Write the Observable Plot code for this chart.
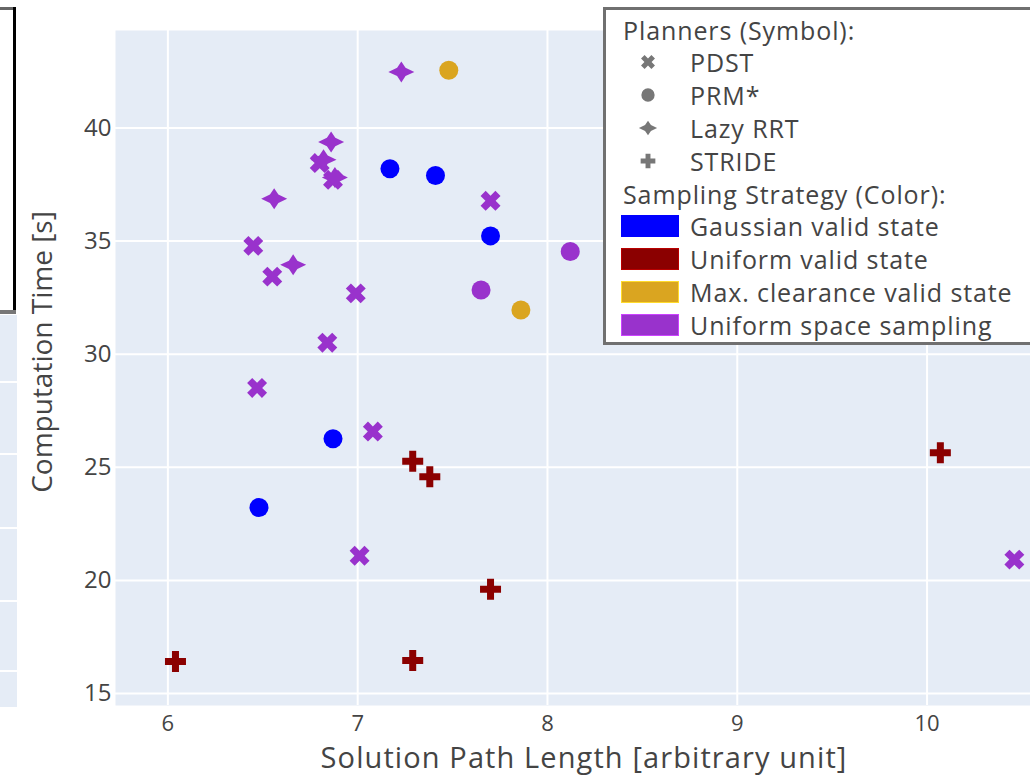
<!DOCTYPE html>
<html>
<head>
<meta charset="utf-8">
<script src="https://cdn.jsdelivr.net/npm/d3@7"></script>
<script src="https://cdn.jsdelivr.net/npm/@observablehq/plot@0.6"></script>
<style>
  body { margin: 0; background: #fff; }
  #wrap { position: relative; width: 1030px; height: 781px; overflow: hidden; font-family: "Open Sans", sans-serif; color: #444; }
  #chart { position: absolute; left: 0; top: 0; }
  .deco { position: absolute; }
  #legend { position: absolute; left: 603px; top: 7px; width: 440px; height: 332px; background: #fff; border: 3px solid #707070; }
  #legend .row { position: absolute; left: 0; height: 32px; line-height: 32px; font-size: 25px; letter-spacing: 0.9px; white-space: nowrap; color: #444; }
  #legend .head { left: 17px; }
  #legend .label { left: 84px; }
  #legend .swatch { position: absolute; left: 15px; width: 58px; height: 22px; box-sizing: border-box; }
  #legend svg { position: absolute; left: 30px; }
  .x-title text { letter-spacing: 1.1px; }
</style>
</head>
<body>
<div id="wrap"><div id="chart"></div></div>
<script>
// Planners are encoded by symbol, sampling strategies by colour
const planners = ["PDST", "PRM*", "Lazy RRT", "STRIDE"];
const strategies = ["Gaussian valid state", "Uniform valid state", "Max. clearance valid state", "Uniform space sampling"];
const strategyColors = ["#0000ff", "#8b0000", "#daa520", "#9932cc"];
const xTicks = [6, 7, 8, 9, 10];
const yTicks = [15, 20, 25, 30, 35, 40];

// One entry per run: planner, sampling strategy, path length, computation time
const runPlanner = [
  "Lazy RRT", "PRM*", "Lazy RRT", "PDST", "Lazy RRT", "PDST", "Lazy RRT", "PRM*",
  "PRM*", "Lazy RRT", "PDST", "PRM*", "PRM*", "PDST", "Lazy RRT", "PDST",
  "PDST", "PRM*", "PRM*", "PDST", "PDST", "PRM*", "PDST", "STRIDE",
  "STRIDE", "PRM*", "PDST", "STRIDE", "STRIDE", "STRIDE", "STRIDE", "PDST"
];
const runStrategy = [
  "Uniform space sampling", "Max. clearance valid state", "Uniform space sampling", "Uniform space sampling",
  "Uniform space sampling", "Uniform space sampling", "Uniform space sampling", "Gaussian valid state",
  "Gaussian valid state", "Uniform space sampling", "Uniform space sampling", "Gaussian valid state",
  "Uniform space sampling", "Uniform space sampling", "Uniform space sampling", "Uniform space sampling",
  "Uniform space sampling", "Uniform space sampling", "Max. clearance valid state", "Uniform space sampling",
  "Uniform space sampling", "Gaussian valid state", "Uniform space sampling", "Uniform valid state",
  "Uniform valid state", "Gaussian valid state", "Uniform space sampling", "Uniform valid state",
  "Uniform valid state", "Uniform valid state", "Uniform valid state", "Uniform space sampling"
];
const pathLength = [
  7.23, 7.48, 6.86, 6.80, 6.82, 6.87, 6.88, 7.17,
  7.41, 6.56, 7.70, 7.70, 8.12, 6.45, 6.66, 6.55,
  6.99, 7.65, 7.86, 6.84, 6.47, 6.87, 7.08, 7.29,
  7.38, 6.48, 7.01, 7.70, 6.04, 7.29, 10.07, 10.46
];
const compTime = [
  42.48, 42.55, 39.38, 38.45, 38.60, 37.71, 37.81, 38.20,
  37.90, 36.87, 36.78, 35.23, 34.54, 34.79, 33.95, 33.43,
  32.69, 32.84, 31.95, 30.51, 28.51, 26.26, 26.58, 25.27,
  24.58, 23.22, 21.09, 19.61, 16.41, 16.46, 25.64, 20.92
];

const runs = runPlanner.map((p, i) => ({planner: p, strategy: runStrategy[i], length: pathLength[i], time: compTime[i]}));

// Marker shapes, drawn relative to the radius Plot hands over
function polygon(ctx, pts) {
  ctx.moveTo(pts[0][0], pts[0][1]);
  for (let i = 1; i < pts.length; i++) ctx.lineTo(pts[i][0], pts[i][1]);
  ctx.closePath();
}
const plusPts = (R, T) => [[-T,-R],[T,-R],[T,-T],[R,-T],[R,T],[T,T],[T,R],[-T,R],[-T,T],[-R,T],[-R,-T],[-T,-T]];
const radius = size => Math.sqrt(size / Math.PI);
const symX = {draw(ctx, size) {
  const r = radius(size);
  polygon(ctx, plusPts(1.05 * r, 0.36 * r).map(([x, y]) => [(x - y) * Math.SQRT1_2, (x + y) * Math.SQRT1_2]));
}};
const symCircle = {draw(ctx, size) {
  const r = radius(size) * 0.95;
  ctx.moveTo(r, 0); ctx.arc(0, 0, r, 0, 2 * Math.PI); ctx.closePath();
}};
const symStar = {draw(ctx, size) {
  const r = radius(size), k = 0.42 * r, rx = 1.3 * r, ry = 1.05 * r;
  polygon(ctx, [[0,-ry],[k,-k],[rx,0],[k,k],[0,ry],[-k,k],[-rx,0],[-k,-k]]);
}};
const symCross = {draw(ctx, size) {
  const r = radius(size);
  polygon(ctx, plusPts(1.05 * r, 0.35 * r));
}};
const plannerSymbols = [symX, symCircle, symStar, symCross];

const chart = Plot.plot({
  width: 1030,
  height: 781,
  marginLeft: 115,
  marginRight: 0,
  marginTop: 30,
  marginBottom: 76,
  style: {fontFamily: "Open Sans, sans-serif", color: "#444", background: "transparent", overflow: "visible"},
  x: {domain: [5.724, 10.545]},
  y: {domain: [14.47, 44.31]},
  color: {domain: strategies, range: strategyColors},
  symbol: {domain: planners, range: plannerSymbols},
  marks: [
    Plot.frame({fill: "#e5ecf6", stroke: null}),
    Plot.gridX(xTicks, {stroke: "#fff", strokeOpacity: 1, strokeWidth: 2}),
    Plot.gridY(yTicks, {stroke: "#fff", strokeOpacity: 1, strokeWidth: 2}),
    Plot.axisX(xTicks, {tickSize: 0, tickPadding: 10, fontSize: 22, label: null, fill: "#444", tickFormat: d => String(d)}),
    Plot.axisY(yTicks, {tickSize: 0, tickPadding: 4, fontSize: 24, label: null, fill: "#444", tickFormat: d => String(d)}),
    Plot.dot(runs, {x: "length", y: "time", symbol: "planner", fill: "strategy", r: 10, stroke: "none"}),
    Plot.text(["Solution Path Length [arbitrary unit]"], {frameAnchor: "bottom", textAnchor: "middle", dx: 11, dy: 62, fontSize: 29, fill: "#444", className: "x-title"}),
    Plot.text(["Computation Time [s]"], {frameAnchor: "left", textAnchor: "middle", rotate: -90, dx: -72, dy: -16, fontSize: 28, fill: "#444"})
  ]
});
document.getElementById("chart").appendChild(chart);

// Edges of the neighbouring panel and legend box on the left
const wrap = document.getElementById("wrap");
function deco(l, t, w, h, bg) {
  const d = document.createElement("div");
  d.className = "deco";
  Object.assign(d.style, {left: l + "px", top: t + "px", width: w + "px", height: h + "px", background: bg});
  wrap.appendChild(d);
}
deco(0, 7, 15, 3, "#666");
deco(13, 7, 3, 305, "#000");
deco(0, 310, 16, 4, "#777");
deco(0, 315, 17, 392, "#e5ecf6");
[381, 453, 527, 600, 670].forEach(y => deco(0, y, 17, 2, "#fff"));

// Legend
const legend = document.createElement("div");
legend.id = "legend";
wrap.appendChild(legend);
const rowTop = c => (c - 10 - 16) + "px";
function addRow(cls, text, centre) {
  const d = document.createElement("div");
  d.className = "row " + cls;
  d.textContent = text;
  d.style.top = rowTop(centre);
  legend.appendChild(d);
}
addRow("head", "Planners (Symbol):", 30);
const symCentres = [62, 95, 128, 161];
planners.forEach((p, i) => {
  addRow("label", p, symCentres[i]);
  const svg = d3.select(legend).append("svg")
    .attr("width", 24).attr("height", 24)
    .style("top", (symCentres[i] - 10 - 12) + "px");
  svg.append("path")
    .attr("transform", "translate(12,12)")
    .attr("fill", "#777")
    .attr("d", d3.symbol(plannerSymbols[i], Math.PI * 7 * 7)());
});
addRow("head", "Sampling Strategy (Color):", 194);
const colCentres = [226, 259, 292, 325];
strategies.forEach((s, i) => {
  addRow("label", s, colCentres[i]);
  const sw = document.createElement("div");
  sw.className = "swatch";
  sw.style.top = (colCentres[i] - 10 - 11) + "px";
  sw.style.background = strategyColors[i];
  sw.style.border = "1px solid " + d3.color(strategyColors[i]).brighter(0.8).formatHex();
  legend.appendChild(sw);
});
</script>
</body>
</html>
